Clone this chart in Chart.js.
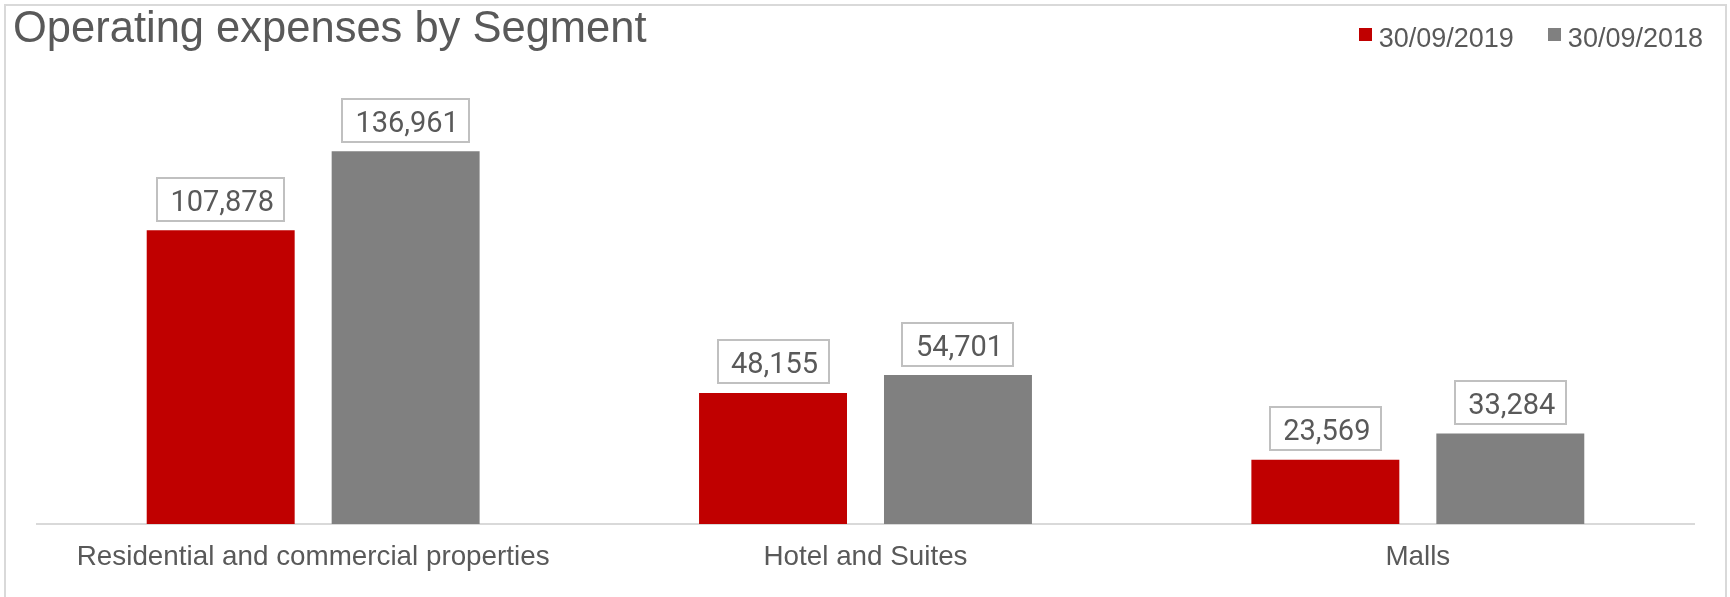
<!DOCTYPE html>
<html>
<head>
<meta charset="utf-8">
<script src="https://cdn.jsdelivr.net/npm/chart.js@4/dist/chart.umd.min.js"></script>
<style>
  html, body { margin: 0; padding: 0; background: #ffffff; }
  #c { display: block; }
</style>
</head>
<body>
<canvas id="c" width="1730" height="597"></canvas>
<script>
// ---- Data ----
const chartTitle = 'Operating expenses by Segment';
const categories = ['Residential and commercial properties', 'Hotel and Suites', 'Malls'];
const seriesLabels = ['30/09/2019', '30/09/2018'];
const values2019 = [107878, 48155, 23569];
const values2018 = [136961, 54701, 33284];
const seriesColors = ['#C00000', '#808080'];

const FONT = '"Liberation Sans", Arial, sans-serif';
const LABEL_FONT = 'Roboto, "Liberation Sans", Arial, sans-serif';
const TEXT = '#595959';

const frame = {
  id: 'frame',
  beforeDraw(chart) {
    const ctx = chart.ctx;
    ctx.save();
    ctx.fillStyle = '#ffffff';
    ctx.fillRect(0, 0, chart.width, chart.height);
    ctx.strokeStyle = '#d9d9d9';
    ctx.lineWidth = 2;
    ctx.strokeRect(5, 5, 1721, 700);
    ctx.restore();
  }
};

// legend on the title row, right-aligned (items read from the datasets)
const topLegend = {
  id: 'topLegend',
  afterDraw(chart) {
    const ctx = chart.ctx;
    ctx.save();
    ctx.font = '27px ' + FONT;
    ctx.textAlign = 'left';
    ctx.textBaseline = 'alphabetic';
    let x = 1703;
    const ds = chart.data.datasets;
    for (let i = ds.length - 1; i >= 0; i--) {
      const tw = ctx.measureText(ds[i].label).width;
      const tx = x - tw;
      ctx.fillStyle = TEXT;
      ctx.fillText(ds[i].label, tx, 46.5);
      ctx.fillStyle = ds[i].backgroundColor;
      ctx.fillRect(Math.round(tx - 20), 28, 13, 13);
      x = tx - 20 - 34;
    }
    ctx.restore();
  }
};

// boxed value labels above each bar
const boxLabels = {
  id: 'boxLabels',
  afterDatasetsDraw(chart) {
    const ctx = chart.ctx;
    ctx.save();
    ctx.font = '29px ' + LABEL_FONT;
    chart.data.datasets.forEach((ds, di) => {
      const meta = chart.getDatasetMeta(di);
      meta.data.forEach((bar, i) => {
        const txt = ds.data[i].toLocaleString('en-US');
        const tw = ctx.measureText(txt).width;
        const w = Math.round(tw + 24);
        const h = 43;
        const left = Math.round(bar.x - w / 2);
        const top = Math.round(bar.y - 9.5 - h);
        ctx.fillStyle = '#ffffff';
        ctx.fillRect(left, top, w, h);
        ctx.strokeStyle = '#c0c0c0';
        ctx.lineWidth = 2;
        ctx.strokeRect(left, top, w, h);
        ctx.fillStyle = TEXT;
        ctx.textAlign = 'center';
        ctx.textBaseline = 'alphabetic';
        ctx.fillText(txt, bar.x + 1.5, top + h - 10);
      });
    });
    ctx.restore();
  }
};

new Chart(document.getElementById('c'), {
  type: 'bar',
  data: {
    labels: categories,
    datasets: [
      { label: seriesLabels[0], data: values2019, backgroundColor: seriesColors[0], borderWidth: 0 },
      { label: seriesLabels[1], data: values2018, backgroundColor: seriesColors[1], borderWidth: 0 }
    ]
  },
  options: {
    responsive: false,
    animation: false,
    devicePixelRatio: 1,
    events: [],
    categoryPercentage: 0.6697,
    barPercentage: 0.8,
    layout: { padding: { left: 13, right: 36, top: 0, bottom: 5.84 } },
    plugins: {
      tooltip: { enabled: false },
      legend: { display: false },
      title: {
        display: true,
        text: chartTitle,
        align: 'start',
        color: TEXT,
        font: { family: FONT, size: 43.5, weight: 'normal', lineHeight: 1.2 },
        padding: { top: 4.3, bottom: 32 }
      }
    },
    scales: {
      x: {
        grid: { display: false, drawTicks: false },
        border: { display: true, color: '#d9d9d9', width: 2 },
        ticks: { color: TEXT, font: { family: FONT, size: 27.8 }, padding: 16.9, maxRotation: 0, autoSkip: false }
      },
      y: {
        position: 'left',
        min: 0,
        max: 160000,
        grid: { display: false, drawTicks: false },
        border: { display: false },
        ticks: { display: false },
        afterFit(s) { s.width = 24; }
      }
    }
  },
  plugins: [frame, topLegend, boxLabels]
});
</script>
</body>
</html>
